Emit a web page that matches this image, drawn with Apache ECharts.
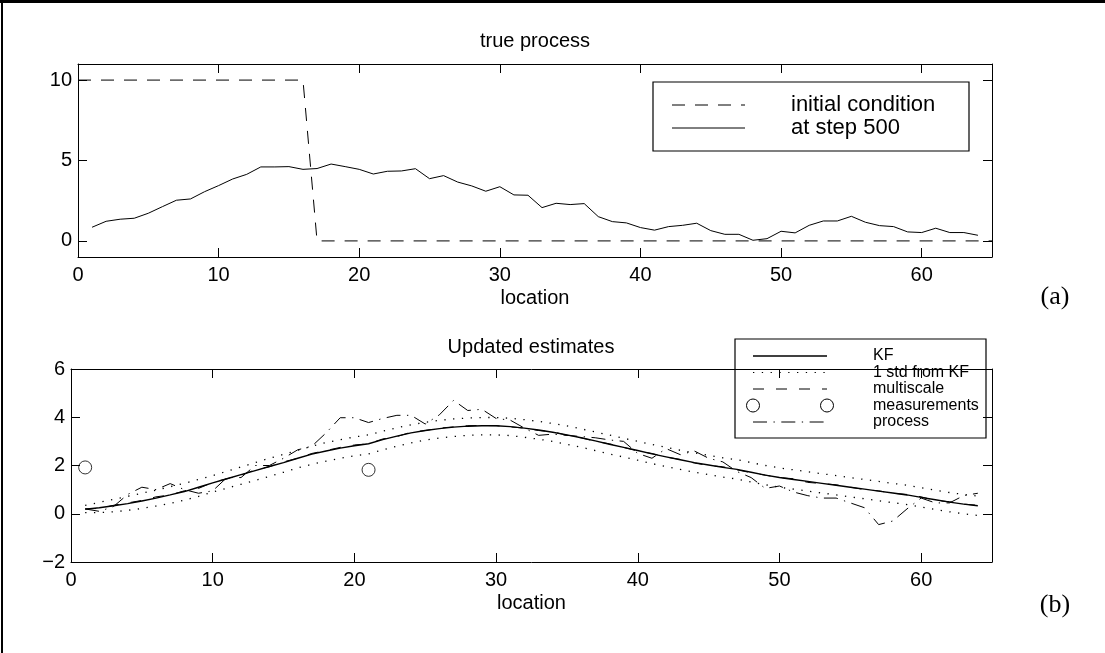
<!DOCTYPE html>
<html><head><meta charset="utf-8">
<script src="https://cdn.jsdelivr.net/npm/echarts@6/dist/echarts.min.js"></script>
<style>html,body{margin:0;padding:0;background:#fff}#c{width:1105px;height:653px}</style>
</head><body><div id="c"></div>
<script>
// ---------------- data ----------------
const xTicks = [0, 10, 20, 30, 40, 50, 60];
const topYTicks = [0, 5, 10];
const botYTicks = [-2, 0, 2, 4, 6];

const topTitle = 'true process';
const botTitle = 'Updated estimates';
const xName = 'location';

const topLegend = ['initial condition', 'at step 500'];
const botLegend = ['KF', '1 std from KF', 'multiscale', 'measurements', 'process'];

// initial condition (step profile, breakpoints)
const initX = [0, 16, 17, 65];
const initY = [10, 10, 0, 0];

const locations = [1,2,3,4,5,6,7,8,9,10,11,12,13,14,15,16,17,18,19,20,21,22,23,24,25,26,27,28,29,30,31,32,
  33,34,35,36,37,38,39,40,41,42,43,44,45,46,47,48,49,50,51,52,53,54,55,56,57,58,59,60,61,62,63,64];

const step500 = [0.85,1.22,1.35,1.41,1.72,2.13,2.53,2.61,3.06,3.44,3.85,4.14,4.60,4.60,4.62,4.45,
  4.50,4.78,4.62,4.45,4.16,4.33,4.35,4.49,3.87,4.06,3.66,3.42,3.09,3.37,2.86,2.84,
  2.07,2.34,2.26,2.32,1.51,1.20,1.12,0.83,0.67,0.89,0.97,1.10,0.64,0.41,0.41,0.04,
  0.14,0.60,0.50,0.97,1.24,1.24,1.53,1.16,0.95,0.89,0.56,0.52,0.79,0.52,0.52,0.35];

const kf = [0.19,0.25,0.33,0.42,0.53,0.65,0.78,0.92,1.10,1.28,1.45,1.62,1.79,1.96,2.12,2.30,
  2.47,2.60,2.72,2.82,2.90,3.07,3.22,3.35,3.45,3.53,3.59,3.63,3.65,3.65,3.61,3.55,
  3.47,3.38,3.27,3.15,3.02,2.88,2.75,2.62,2.48,2.36,2.24,2.12,2.02,1.92,1.84,1.72,
  1.60,1.50,1.42,1.34,1.26,1.18,1.10,1.02,0.94,0.86,0.78,0.68,0.58,0.48,0.40,0.33];

const kfUpper = [0.35,0.47,0.60,0.72,0.85,0.98,1.12,1.26,1.42,1.58,1.76,1.94,2.12,2.30,2.46,2.63,
  2.80,2.95,3.07,3.18,3.27,3.42,3.56,3.69,3.79,3.87,3.93,3.97,3.99,3.99,3.96,3.90,
  3.83,3.74,3.64,3.52,3.39,3.26,3.13,3.00,2.87,2.75,2.63,2.52,2.42,2.32,2.24,2.12,
  2.00,1.90,1.82,1.74,1.66,1.58,1.50,1.42,1.34,1.26,1.18,1.08,0.98,0.88,0.80,0.73];

const kfLower = [0.05,0.05,0.08,0.14,0.22,0.32,0.43,0.56,0.72,0.90,1.06,1.22,1.38,1.55,1.72,1.90,
  2.05,2.18,2.30,2.40,2.48,2.65,2.80,2.94,3.05,3.14,3.20,3.25,3.27,3.27,3.24,3.17,
  3.09,3.00,2.88,2.76,2.62,2.48,2.35,2.22,2.08,1.96,1.84,1.72,1.62,1.52,1.44,1.32,
  1.20,1.10,1.02,0.94,0.86,0.78,0.70,0.62,0.54,0.46,0.38,0.28,0.18,0.08,0.00,-0.07];

const multiscale = [0.20,0.22,0.35,0.45,0.55,0.70,0.78,0.95,1.05,1.30,1.45,1.60,1.82,1.95,2.15,2.30,
  2.50,2.62,2.75,2.85,2.90,3.10,3.20,3.38,3.45,3.55,3.60,3.65,3.66,3.65,3.60,3.55,
  3.45,3.40,3.25,3.15,3.00,2.90,2.75,2.60,2.50,2.35,2.25,2.10,2.00,1.95,1.82,1.70,
  1.60,1.50,1.45,1.30,1.25,1.20,1.10,1.00,0.95,0.85,0.80,0.70,0.55,0.50,0.40,0.35];

const processVals = [0.20,0.10,0.30,0.80,1.10,1.00,1.25,1.00,0.85,0.95,1.50,1.50,2.00,2.00,2.30,2.65,
  2.80,3.35,3.98,3.98,3.78,3.95,4.08,4.08,3.72,4.10,4.70,4.28,4.33,3.95,3.88,3.55,
  3.25,3.30,3.25,3.20,3.15,3.06,3.00,2.50,2.30,2.70,2.45,2.60,2.30,2.15,1.75,1.50,
  1.05,1.15,0.90,0.75,0.65,0.65,0.45,0.25,-0.45,-0.30,0.20,0.65,0.45,0.45,0.75,0.85];

const measX = [1, 21];
const measY = [1.92, 1.82];

// ---------------- styles ----------------
const FONT = 'Liberation Sans, Arial, Helvetica, sans-serif';
const BLACK = '#000';
const DASH_TOP = [13, 10];
const DASH_MS = [11, 12];
const DOT = [1.3, 7.5];
const DASHDOT = [14, 6.5, 1.3, 6.5];

function pairs(xs, ys) { return xs.map((x, i) => [x, ys[i]]); }
const minusFmt = v => String(v).replace('-', '\u2212');

function xAxes(grid, withName) {
  const base = {
    gridIndex: grid, type: 'value', min: 0, max: 65,
    axisLine: { show: true, onZero: false, lineStyle: { color: BLACK, width: 1 } },
    axisTick: { show: true, inside: true, length: 9, customValues: xTicks, lineStyle: { color: BLACK, width: 1 } },
    splitLine: { show: false }
  };
  return [
    Object.assign({}, base, {
      position: 'bottom',
      axisLabel: { show: true, customValues: xTicks, color: BLACK, fontSize: 20, fontFamily: FONT, margin: 8, formatter: minusFmt },
      name: withName, nameLocation: 'middle', nameGap: 31,
      nameTextStyle: { color: BLACK, fontSize: 20, fontFamily: FONT }
    }),
    Object.assign({}, base, { position: 'top', axisLabel: { show: false } })
  ];
}
function yAxes(grid, min, max, ticks) {
  const base = {
    gridIndex: grid, type: 'value', min: min, max: max,
    axisLine: { show: true, onZero: false, lineStyle: { color: BLACK, width: 1 } },
    axisTick: { show: true, inside: true, length: 9, customValues: ticks, lineStyle: { color: BLACK, width: 1 } },
    splitLine: { show: false }
  };
  return [
    Object.assign({}, base, {
      position: 'left',
      axisLabel: { show: true, customValues: ticks, color: BLACK, fontSize: 20, fontFamily: FONT, margin: 6, formatter: minusFmt }
    }),
    Object.assign({}, base, { position: 'right', axisLabel: { show: false } })
  ];
}

function lineSeries(name, data, xi, yi, dash, width) {
  return {
    name: name, type: 'line', xAxisIndex: xi, yAxisIndex: yi, data: data,
    symbol: 'none', showSymbol: false, silent: true, animation: false,
    lineStyle: { color: BLACK, width: width || 1, type: dash || 'solid', cap: 'butt' },
    z: 3
  };
}

// ---------------- legend graphics ----------------
function legendGroup(names, styles, box, sample, textX, rowYs, fontSize) {
  const children = [{
    type: 'rect', shape: { x: box[0], y: box[1], width: box[2], height: box[3] },
    style: { fill: '#fff', stroke: BLACK, lineWidth: 1.2 }
  }];
  names.forEach((n, i) => {
    const st = styles[i];
    const y = rowYs[i];
    if (st.circle) {
      [sample[0], sample[1]].forEach(cx => children.push({
        type: 'circle', shape: { cx: cx, cy: y, r: 6.5 },
        style: { fill: 'none', stroke: BLACK, lineWidth: 1 }
      }));
    } else {
      children.push({
        type: 'line', shape: { x1: sample[0], y1: y, x2: sample[1], y2: y },
        style: { stroke: BLACK, lineWidth: st.width || 1, lineDash: st.dash || null }
      });
    }
    children.push({
      type: 'text', x: textX, y: y,
      style: { text: n, fill: BLACK, font: fontSize + 'px ' + FONT, textVerticalAlign: 'middle', verticalAlign: 'middle' }
    });
  });
  return { type: 'group', z: 100, children: children };
}

const topLegendStyles = [{ dash: DASH_TOP }, {}];
const botLegendStyles = [{ width: 1.3 }, { dash: DOT }, { dash: DASH_MS }, { circle: true }, { dash: DASHDOT }];

const chart = echarts.init(document.getElementById('c'), null, { renderer: 'canvas' });
chart.setOption({
  animation: false,
  backgroundColor: '#fff',
  title: [
    { text: topTitle, left: 535, top: 31, textAlign: 'center', padding: 0,
      textStyle: { color: BLACK, fontSize: 20, fontWeight: 'normal', fontFamily: FONT } },
    { text: botTitle, left: 531, top: 337, textAlign: 'center', padding: 0,
      textStyle: { color: BLACK, fontSize: 20, fontWeight: 'normal', fontFamily: FONT } }
  ],
  grid: [
    { left: 78, top: 64, width: 914, height: 193, containLabel: false },
    { left: 71, top: 369, width: 921, height: 193, containLabel: false }
  ],
  xAxis: [].concat(xAxes(0, xName), xAxes(1, xName)),
  yAxis: [].concat(yAxes(0, -1, 11, topYTicks), yAxes(1, -2, 6, botYTicks)),
  series: [
    lineSeries(topLegend[0], pairs(initX, initY), 0, 0, DASH_TOP, 1),
    lineSeries(topLegend[1], pairs(locations, step500), 0, 0, 'solid', 1),
    lineSeries(botLegend[1], pairs(locations, kfUpper), 2, 2, DOT, 1.3),
    lineSeries(botLegend[1] + ' (lower)', pairs(locations, kfLower), 2, 2, DOT, 1.3),
    lineSeries(botLegend[2], pairs(locations, multiscale), 2, 2, DASH_MS, 1),
    lineSeries(botLegend[4], pairs(locations, processVals), 2, 2, DASHDOT, 1),
    lineSeries(botLegend[0], pairs(locations, kf), 2, 2, 'solid', 1.4),
    {
      name: botLegend[3], type: 'scatter', xAxisIndex: 2, yAxisIndex: 2,
      data: pairs(measX, measY), symbol: 'circle', symbolSize: 13, silent: true,
      itemStyle: { color: 'rgba(0,0,0,0)', borderColor: BLACK, borderWidth: 1 }, z: 4
    }
  ],
  graphic: [
    { type: 'rect', z: 200, shape: { x: 0, y: 0, width: 1105, height: 3 }, style: { fill: BLACK } },
    { type: 'rect', z: 200, shape: { x: 1, y: 0, width: 2, height: 653 }, style: { fill: BLACK } },
    legendGroup(topLegend, topLegendStyles, [653, 82, 316, 69], [672, 745], 791, [105, 128], 22),
    legendGroup(botLegend, botLegendStyles, [735, 339, 251, 99], [753, 827], 873, [356, 372.5, 389, 405.5, 422], 16),
    { type: 'text', z: 100, x: 1055, y: 297,
      style: { text: '(a)', fill: BLACK, font: '26px Liberation Serif, DejaVu Serif, serif', align: 'center', verticalAlign: 'middle' } },
    { type: 'text', z: 100, x: 1055, y: 605,
      style: { text: '(b)', fill: BLACK, font: '26px Liberation Serif, DejaVu Serif, serif', align: 'center', verticalAlign: 'middle' } }
  ]
});
</script>
</body></html>
